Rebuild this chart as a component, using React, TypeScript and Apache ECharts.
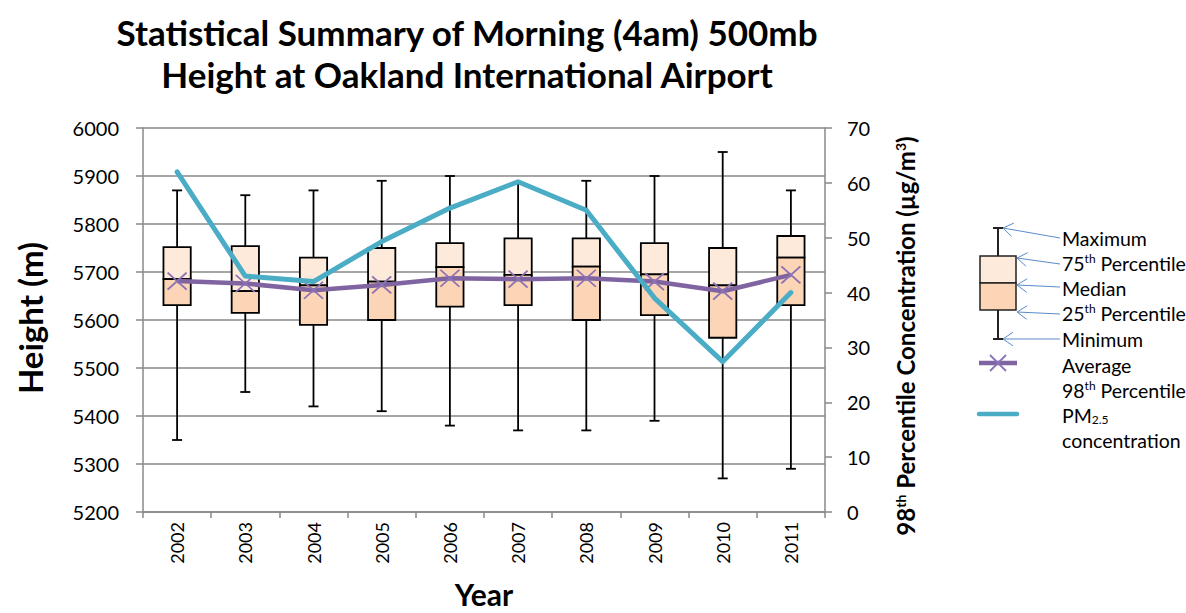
import React, { useEffect, useRef } from "react";
import * as echarts from "echarts";

const years = ["2002", "2003", "2004", "2005", "2006", "2007", "2008", "2009", "2010", "2011"];
const maxH = [5870, 5860, 5870, 5890, 5900, 5885, 5890, 5900, 5950, 5870];
const q3H = [5752, 5754, 5730, 5750, 5760, 5770, 5770, 5760, 5750, 5775];
const medianH = [5685, 5660, 5672, 5680, 5710, 5694, 5711, 5695, 5672, 5730];
const q1H = [5631, 5615, 5590, 5600, 5628, 5631, 5600, 5610, 5563, 5631];
const minH = [5350, 5450, 5420, 5410, 5380, 5370, 5370, 5390, 5270, 5290];
const avgH = [5681, 5676, 5662, 5673, 5687, 5685, 5687, 5680, 5660, 5694];
const pm25 = [62.0, 43.0, 42.0, 49.3, 55.4, 60.2, 55.0, 39.0, 27.4, 40.0];

const leftMin = 5200;
const leftMax = 6000;
const leftStep = 100;
const rightMin = 0;
const rightMax = 70;
const rightStep = 10;

const FONT = "Lato, 'Open Sans', sans-serif";
const GREY = "#898989";
const BOX_LIGHT = "#FDEADA";
const BOX_DARK = "#FBD5B5";
const PURPLE = "#8064A2";
const CYAN = "#4BACC6";
const ARROW = "#5B8BC9";

const supStyle = { fontSize: 12, fontFamily: FONT, fill: "#000", verticalAlign: "top", padding: [0, 0, 9, 0] };
const subStyle = { fontSize: 12, fontFamily: FONT, fill: "#000", verticalAlign: "bottom", padding: [6, 0, 0, 0] };

function arrow(tx: number, ty: number, fx: number, fy: number) {
  const ang = Math.atan2(fy - ty, fx - tx);
  const L = 12;
  const a1 = ang + 0.6;
  const a2 = ang - 0.6;
  const st = { stroke: ARROW, lineWidth: 1 };
  return [
    { type: "line", shape: { x1: fx, y1: fy, x2: tx, y2: ty }, style: st },
    { type: "line", shape: { x1: tx, y1: ty, x2: tx + L * Math.cos(a1), y2: ty + L * Math.sin(a1) }, style: st },
    { type: "line", shape: { x1: tx, y1: ty, x2: tx + L * Math.cos(a2), y2: ty + L * Math.sin(a2) }, style: st },
  ];
}

function legendText(x: number, y: number, text: string, rich?: any) {
  return {
    type: "text",
    x,
    y,
    style: {
      text,
      fontFamily: FONT,
      fontSize: 19.5,
      fill: "#000",
      align: "left",
      verticalAlign: "middle",
      rich: rich || {},
    },
  };
}

export default function App() {
  const ref = useRef<HTMLDivElement>(null);
  useEffect(() => {
    if (!ref.current) return;
    const chart = echarts.init(ref.current, null, { renderer: "svg" });
    const boxData = years.map((_, i) => [i, maxH[i], q3H[i], medianH[i], q1H[i], minH[i]]);
    const lx = 1062;
    const graphic: any[] = [
      {
        type: "text",
        x: 467,
        y: 32,
        style: { text: "Statistical Summary of Morning (4am) 500mb", fontFamily: FONT, fontWeight: "bold", fontSize: 35, fill: "#000", align: "center", verticalAlign: "middle" },
      },
      {
        type: "text",
        x: 467,
        y: 74,
        style: { text: "Height at Oakland International Airport", fontFamily: FONT, fontWeight: "bold", fontSize: 35, fill: "#000", align: "center", verticalAlign: "middle" },
      },
      {
        type: "text",
        x: 30,
        y: 318,
        rotation: Math.PI / 2,
        style: { text: "Height (m)", fontFamily: FONT, fontWeight: "bold", fontSize: 33, fill: "#000", align: "center", verticalAlign: "middle" },
      },
      {
        type: "text",
        x: 484,
        y: 594,
        style: { text: "Year", fontFamily: FONT, fontWeight: "bold", fontSize: 30, fill: "#000", align: "center", verticalAlign: "middle" },
      },
      {
        type: "text",
        x: 905,
        y: 336,
        rotation: Math.PI / 2,
        style: {
          text: "98{sup|th} Percentile Concentration (µg/m{sup|3})",
          fontFamily: FONT,
          fontWeight: "bold",
          fontSize: 24,
          fill: "#000",
          align: "center",
          verticalAlign: "middle",
          rich: { sup: { ...supStyle, fontWeight: "bold", fontSize: 14, padding: [0, 0, 10, 0] } },
        },
      },
      // legend box icon
      { type: "line", shape: { x1: 998, y1: 228, x2: 998, y2: 339 }, style: { stroke: "#222", lineWidth: 2 } },
      { type: "line", shape: { x1: 993, y1: 228, x2: 1003, y2: 228 }, style: { stroke: "#222", lineWidth: 2 } },
      { type: "line", shape: { x1: 993, y1: 339, x2: 1003, y2: 339 }, style: { stroke: "#222", lineWidth: 2 } },
      { type: "rect", shape: { x: 980, y: 256, width: 36, height: 27 }, style: { fill: BOX_LIGHT, stroke: "#222", lineWidth: 1.5 } },
      { type: "rect", shape: { x: 980, y: 283, width: 36, height: 27 }, style: { fill: BOX_DARK, stroke: "#222", lineWidth: 1.5 } },
      ...arrow(1003, 228, 1060, 238),
      ...arrow(1017, 258, 1060, 264),
      ...arrow(1017, 285, 1060, 287),
      ...arrow(1017, 312, 1060, 314),
      ...arrow(1003, 339, 1060, 339),
      legendText(lx, 238, "Maximum"),
      legendText(lx, 263, "75{sup|th} Percentile", { sup: supStyle }),
      legendText(lx, 288, "Median"),
      legendText(lx, 313, "25{sup|th} Percentile", { sup: supStyle }),
      legendText(lx, 339, "Minimum"),
      // average legend
      { type: "line", shape: { x1: 979, y1: 363, x2: 1017, y2: 363 }, style: { stroke: PURPLE, lineWidth: 4.5 } },
      { type: "line", shape: { x1: 990, y1: 355, x2: 1006, y2: 371 }, style: { stroke: "#8B72B5", lineWidth: 1.8 } },
      { type: "line", shape: { x1: 1006, y1: 355, x2: 990, y2: 371 }, style: { stroke: "#8B72B5", lineWidth: 1.8 } },
      legendText(lx, 365, "Average"),
      legendText(lx, 390, "98{sup|th} Percentile", { sup: supStyle }),
      { type: "line", shape: { x1: 979, y1: 414, x2: 1017, y2: 414 }, style: { stroke: CYAN, lineWidth: 4.5, lineCap: "round" } },
      legendText(lx, 415, "PM{sub|2.5}", { sub: subStyle }),
      legendText(lx, 440, "concentration"),
    ];

    chart.setOption({
      animation: false,
      backgroundColor: "#fff",
      grid: { left: 143, right: 361, top: 128, bottom: 101, containLabel: false },
      xAxis: {
        type: "category",
        data: years,
        boundaryGap: true,
        axisLine: { show: true, lineStyle: { color: GREY, width: 1.5 } },
        axisTick: { show: true, interval: 0, length: 6, lineStyle: { color: GREY, width: 1.5 } },
        axisLabel: { rotate: 90, fontFamily: FONT, fontSize: 18, color: "#000", margin: 10, interval: 0 },
        splitLine: { show: false },
      },
      yAxis: [
        {
          type: "value",
          min: leftMin,
          max: leftMax,
          interval: leftStep,
          axisLine: { show: true, lineStyle: { color: GREY, width: 1.5 } },
          axisTick: { show: true, length: 7, lineStyle: { color: GREY, width: 1.5 } },
          axisLabel: { fontFamily: FONT, fontSize: 20, color: "#000", margin: 24, formatter: (v: number) => String(v) },
          splitLine: { show: true, lineStyle: { color: GREY, width: 1.5 } },
        },
        {
          type: "value",
          min: rightMin,
          max: rightMax,
          interval: rightStep,
          position: "right",
          axisLine: { show: true, lineStyle: { color: GREY, width: 1.5 } },
          axisTick: { show: true, length: 7, lineStyle: { color: GREY, width: 1.5 } },
          axisLabel: { fontFamily: FONT, fontSize: 20, color: "#000", margin: 22, formatter: (v: number) => String(v) },
          splitLine: { show: false },
        },
      ],
      series: [
        {
          type: "custom",
          name: "Box",
          xAxisIndex: 0,
          yAxisIndex: 0,
          data: boxData,
          encode: { x: 0, y: [1, 2, 3, 4, 5] },
          z: 2,
          renderItem: (params: any, api: any) => {
            const i = api.value(0);
            const pMax = api.coord([i, api.value(1)]);
            const pQ3 = api.coord([i, api.value(2)]);
            const pMed = api.coord([i, api.value(3)]);
            const pQ1 = api.coord([i, api.value(4)]);
            const pMin = api.coord([i, api.value(5)]);
            const bw = api.size([1, 0])[0] * 0.4;
            const cx = pMax[0];
            const cap = 5;
            const ls = { stroke: "#000", lineWidth: 1.8 };
            return {
              type: "group",
              children: [
                { type: "line", shape: { x1: cx, y1: pMax[1], x2: cx, y2: pMin[1] }, style: ls },
                { type: "line", shape: { x1: cx - cap, y1: pMax[1], x2: cx + cap, y2: pMax[1] }, style: ls },
                { type: "line", shape: { x1: cx - cap, y1: pMin[1], x2: cx + cap, y2: pMin[1] }, style: ls },
                { type: "rect", shape: { x: cx - bw / 2, y: pQ3[1], width: bw, height: pMed[1] - pQ3[1] }, style: { fill: BOX_LIGHT, stroke: "#000", lineWidth: 1.8 } },
                { type: "rect", shape: { x: cx - bw / 2, y: pMed[1], width: bw, height: pQ1[1] - pMed[1] }, style: { fill: BOX_DARK, stroke: "#000", lineWidth: 1.8 } },
              ],
            };
          },
        },
        {
          type: "line",
          name: "Average",
          yAxisIndex: 0,
          data: avgH,
          z: 3,
          symbol: "path://M0,0L10,10M10,0L0,10",
          symbolSize: [19, 17],
          showSymbol: true,
          showAllSymbol: true,
          lineStyle: { color: PURPLE, width: 4.5 },
          itemStyle: { color: "#8B72B5", borderColor: "#8B72B5", borderWidth: 1.8 },
        },
        {
          type: "line",
          name: "PM2.5",
          yAxisIndex: 1,
          data: pm25,
          z: 4,
          symbol: "none",
          lineStyle: { color: CYAN, width: 5, cap: "round", join: "round" },
          itemStyle: { color: CYAN },
        },
      ],
      graphic,
    });
    return () => chart.dispose();
  }, []);
  return <div ref={ref} style={{ width: 1186, height: 613, position: "absolute", left: 0, top: 0 }} />;
}
